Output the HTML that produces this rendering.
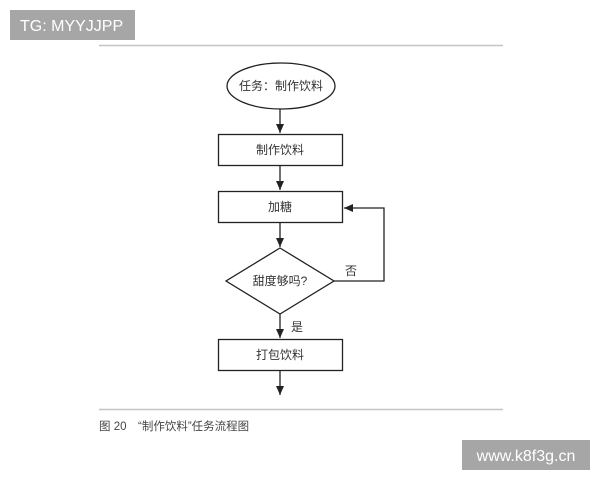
<!DOCTYPE html>
<html><head><meta charset="utf-8"><style>
html,body{margin:0;padding:0;background:#fff;}
svg{display:block;}
text{font-family:"Liberation Sans","Noto Sans CJK SC",sans-serif;}
</style></head><body>
<svg width="600" height="480" viewBox="0 0 600 480" xmlns="http://www.w3.org/2000/svg">
<defs><marker id="a" markerWidth="10" markerHeight="10" refX="9" refY="5" orient="auto" markerUnits="userSpaceOnUse"><path d="M0,1 L9,5 L0,9 Z" fill="#222"/></marker></defs>
<rect x="10" y="10" width="125" height="30" fill="#a6a6a6"/>
<text x="20" y="31" font-size="16" fill="#fff">TG: MYYJJPP</text>
<line x1="99" y1="45.5" x2="503" y2="45.5" stroke="#c4c4c4" stroke-width="1.5"/>
<line x1="99" y1="409.5" x2="503" y2="409.5" stroke="#c4c4c4" stroke-width="1.5"/>
<text x="99" y="430" font-size="11.5" fill="#444">图 20　“制作饮料”任务流程图</text>
<rect x="462" y="440" width="128" height="30" fill="#a6a6a6"/>
<text x="526" y="461" font-size="16" fill="#fff" text-anchor="middle">www.k8f3g.cn</text>
<g stroke="#222" stroke-width="1.3" fill="none">
<ellipse cx="281" cy="86" rx="54" ry="23" fill="#fff"/>
<rect x="218.5" y="134.5" width="124" height="31" fill="#fff"/>
<rect x="218.5" y="191.5" width="124" height="31" fill="#fff"/>
<polygon points="280,248 334,281 280,314 226,281" fill="#fff"/>
<rect x="218.5" y="339.5" width="124" height="31" fill="#fff"/>
<line x1="280" y1="109" x2="280" y2="133" marker-end="url(#a)"/>
<line x1="280" y1="166" x2="280" y2="190" marker-end="url(#a)"/>
<line x1="280" y1="223" x2="280" y2="247" marker-end="url(#a)"/>
<line x1="280" y1="314" x2="280" y2="338" marker-end="url(#a)"/>
<line x1="280" y1="371" x2="280" y2="395" marker-end="url(#a)"/>
<polyline points="334,281 384,281 384,208 344,208" marker-end="url(#a)"/>
</g>
<g font-size="12" fill="#333" text-anchor="middle">
<text x="281" y="90">任务：制作饮料</text>
<text x="280" y="154">制作饮料</text>
<text x="280" y="211">加糖</text>
<text x="280" y="285">甜度够吗?</text>
<text x="280" y="359">打包饮料</text>
<text x="351" y="275">否</text>
<text x="297" y="331">是</text>
</g>
</svg>
</body></html>
